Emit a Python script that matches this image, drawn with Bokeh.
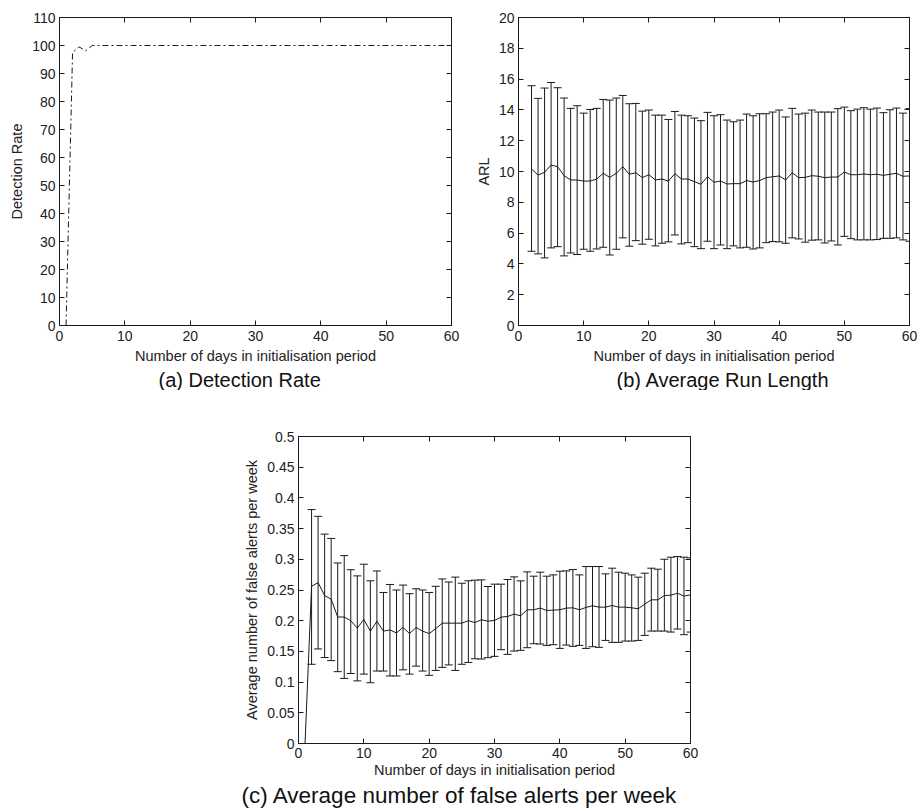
from bokeh.plotting import figure
from bokeh.layouts import row, column, Spacer
from bokeh.models import (Range1d, FixedTicker, LinearAxis, Title, Whisker,
                          TeeHead, ColumnDataSource)
from bokeh.embed import file_html
from bokeh.resources import INLINE

FONT = "Liberation Sans"
INK = "#1a1a1a"

# ---------------- data ----------------
# (a) detection rate (%) against length of initialisation period
dr_days = list(range(1, 61))
dr_rate = [0.0, 97.5, 99.5, 98.1, 100, 100, 100, 100, 100, 100,
           100, 100, 100, 100, 100, 100, 100, 100, 100, 100,
           100, 100, 100, 100, 100, 100, 100, 100, 100, 100,
           100, 100, 100, 100, 100, 100, 100, 100, 100, 100,
           100, 100, 100, 100, 100, 100, 100, 100, 100, 100,
           100, 100, 100, 100, 100, 100, 100, 100, 100, 100]

# (b) average run length, days 2..60, with error-bar limits
arl_days = list(range(2, 61))
arl_mean = [10.16, 9.77, 9.95, 10.42, 10.31, 9.73, 9.45, 9.45, 9.38, 9.38,
            9.51, 9.88, 9.62, 9.88, 10.31, 9.82, 9.92, 9.60, 9.79, 9.45,
            9.51, 9.38, 9.86, 9.51, 9.51, 9.34, 9.17, 9.66, 9.30, 9.38,
            9.19, 9.21, 9.21, 9.41, 9.32, 9.41, 9.60, 9.66, 9.71, 9.45,
            9.92, 9.60, 9.62, 9.73, 9.69, 9.60, 9.64, 9.64, 9.97, 9.79,
            9.79, 9.84, 9.79, 9.82, 9.75, 9.82, 9.88, 9.69, 9.71]
arl_upper = [15.57, 14.75, 15.42, 15.78, 15.44, 14.77, 14.10, 14.27, 13.79, 14.03,
             14.10, 14.68, 14.64, 14.77, 14.94, 14.40, 14.42, 13.92, 13.99, 13.66,
             13.66, 13.38, 13.90, 13.66, 13.62, 13.47, 13.30, 13.84, 13.62, 13.69,
             13.34, 13.23, 13.34, 13.73, 13.62, 13.75, 13.75, 13.86, 13.99, 13.54,
             14.10, 13.73, 13.79, 13.99, 13.86, 13.86, 13.86, 14.08, 14.18, 13.95,
             14.05, 14.14, 14.05, 14.12, 13.82, 14.01, 14.12, 13.79, 14.08]
arl_lower = [4.82, 4.65, 4.39, 5.04, 5.12, 4.52, 4.71, 4.61, 4.95, 4.82,
             4.97, 5.08, 4.58, 4.95, 5.69, 5.15, 5.51, 5.28, 5.60, 5.17,
             5.34, 5.43, 5.88, 5.30, 5.38, 5.12, 4.99, 5.47, 4.99, 5.23,
             4.99, 5.17, 5.04, 5.08, 4.97, 5.04, 5.38, 5.45, 5.43, 5.34,
             5.69, 5.62, 5.41, 5.54, 5.56, 5.36, 5.49, 5.23, 5.79, 5.64,
             5.56, 5.56, 5.56, 5.58, 5.66, 5.66, 5.69, 5.56, 5.47]

# (c) false alerts per week: mean for days 1..60, error bars for days 2..60
fa_days = list(range(1, 61))
fa_mean = [0.0, 0.256, 0.262, 0.241, 0.235, 0.206, 0.206, 0.200, 0.188, 0.202,
           0.183, 0.199, 0.183, 0.185, 0.180, 0.189, 0.179, 0.189, 0.183, 0.179,
           0.187, 0.196, 0.196, 0.196, 0.196, 0.200, 0.197, 0.2015, 0.1993, 0.2004,
           0.2058, 0.2069, 0.2107, 0.2080, 0.2178, 0.2178, 0.2205, 0.2167, 0.2172, 0.2178,
           0.2205, 0.2210, 0.2178, 0.2216, 0.2243, 0.2221, 0.2221, 0.2248, 0.2221, 0.2221,
           0.2210, 0.2194, 0.2270, 0.2340, 0.2340, 0.2410, 0.2416, 0.2448, 0.2400, 0.2421]
fa_bar_days = list(range(2, 61))
fa_upper = [0.381, 0.370, 0.341, 0.334, 0.294, 0.306, 0.283, 0.273, 0.292,
            0.265, 0.281, 0.246, 0.259, 0.250, 0.258, 0.244, 0.252, 0.250, 0.246,
            0.256, 0.268, 0.263, 0.271, 0.261, 0.265, 0.266, 0.2665, 0.2557, 0.2595,
            0.2595, 0.2671, 0.2714, 0.2649, 0.2795, 0.2725, 0.2790, 0.2725, 0.2746, 0.2806,
            0.2811, 0.2833, 0.2746, 0.2882, 0.2882, 0.2882, 0.2763, 0.2855, 0.2790, 0.2774,
            0.2746, 0.2709, 0.2774, 0.2855, 0.2839, 0.3001, 0.3034, 0.3045, 0.3034, 0.3023]
fa_lower = [0.129, 0.154, 0.140, 0.135, 0.117, 0.106, 0.114, 0.102, 0.113,
            0.099, 0.118, 0.118, 0.110, 0.110, 0.120, 0.113, 0.126, 0.118, 0.111,
            0.119, 0.124, 0.128, 0.119, 0.129, 0.132, 0.138, 0.1376, 0.1398, 0.1419,
            0.1528, 0.1452, 0.1506, 0.1517, 0.1560, 0.1625, 0.1620, 0.1598, 0.1609, 0.1549,
            0.1603, 0.1582, 0.1598, 0.1549, 0.1576, 0.1566, 0.1679, 0.1647, 0.1647, 0.1668,
            0.1668, 0.1679, 0.1760, 0.1831, 0.1831, 0.1831, 0.1815, 0.1864, 0.1772, 0.1815]

# tick positions and labels
x_ticks = [0, 10, 20, 30, 40, 50, 60]
dr_ticks = [0, 10, 20, 30, 40, 50, 60, 70, 80, 90, 100, 110]
arl_ticks = [0, 2, 4, 6, 8, 10, 12, 14, 16, 18, 20]
fa_ticks = [0, 0.05, 0.1, 0.15, 0.2, 0.25, 0.3, 0.35, 0.4, 0.45, 0.5]
fa_tick_labels = ["0", "0.05", "0.1", "0.15", "0.2", "0.25", "0.3", "0.35", "0.4", "0.45", "0.5"]

X_LABEL = "Number of days in initialisation period"


def make_panel(width, height, y_max, borders, y_label, y_ticks, caption, cap_offset,
               cap_size="20px", y_label_map=None, x_gap=(5, 4)):
    left, right, top, bottom = borders
    p = figure(width=width, height=height, x_range=Range1d(0, 60), y_range=Range1d(0, y_max),
               output_backend="svg", toolbar_location=None, title=None,
               min_border_left=left, min_border_right=right,
               min_border_top=top, min_border_bottom=bottom,
               background_fill_color="white", border_fill_color="white")
    p.outline_line_color = INK
    p.outline_line_width = 1
    p.grid.visible = False

    xa, ya = p.xaxis[0], p.yaxis[0]
    xa.ticker = FixedTicker(ticks=x_ticks)
    ya.ticker = FixedTicker(ticks=y_ticks)
    if y_label_map:
        ya.major_label_overrides = y_label_map
    xa.axis_label = X_LABEL
    ya.axis_label = y_label
    for ax in (xa, ya):
        ax.major_tick_in = 5
        ax.major_tick_out = 0
        ax.minor_tick_line_color = None
        ax.axis_line_color = INK
        ax.major_tick_line_color = INK
        ax.major_label_text_font = FONT
        ax.major_label_text_font_size = "14px"
        ax.major_label_text_color = "#222222"
        ax.axis_label_text_font = FONT
        ax.axis_label_text_font_size = "14.5px"
        ax.axis_label_text_font_style = "normal"
        ax.axis_label_text_color = "#222222"
    xa.major_label_standoff, xa.axis_label_standoff = x_gap
    ya.major_label_standoff = 4
    ya.axis_label_standoff = 4

    # mirrored tick marks on the top and right edges
    for side, ticks in (("above", x_ticks), ("right", y_ticks)):
        ax = LinearAxis(ticker=FixedTicker(ticks=ticks), major_tick_in=5, major_tick_out=0,
                        minor_tick_line_color=None, axis_line_color=INK,
                        major_tick_line_color=INK, major_label_text_font_size="0px",
                        major_label_text_alpha=0, major_label_standoff=0)
        p.add_layout(ax, side)

    cap = Title(text=caption, align="left", offset=cap_offset, text_font=FONT,
                text_font_size=cap_size, text_font_style="normal", text_color="#111111",
                standoff=0)
    p.add_layout(cap, "below")
    return p


# (a) Detection rate
pa = make_panel(460, 390, 110, (59, 9, 17, 65), "Detection Rate", dr_ticks,
                "(a) Detection Rate", 99)
pa.line(dr_days, dr_rate, line_color=INK, line_width=1, line_dash="6 3 2 3")

# (b) Average run length
pb = make_panel(458, 390, 20, (58, 9, 17, 65), "ARL", arl_ticks,
                "(b) Average Run Length", 98)
arl_src = ColumnDataSource(dict(x=arl_days, lo=arl_lower, hi=arl_upper))
pb.add_layout(Whisker(source=arl_src, base="x", lower="lo", upper="hi", dimension="height",
                      line_color=INK, line_width=1,
                      lower_head=TeeHead(size=8, line_color=INK, line_width=1),
                      upper_head=TeeHead(size=8, line_color=INK, line_width=1)))
pb.line(arl_days, arl_mean, line_color=INK, line_width=1)

# (c) False alerts per week
pc = make_panel(470, 418, 0.5, (68, 10, 46, 65), "Average number of false alerts per week",
                fa_ticks, "(c) Average number of false alerts per week", -57,
                cap_size="22.5px", y_label_map=dict(zip(fa_ticks, fa_tick_labels)),
                x_gap=(4, 1))
fa_src = ColumnDataSource(dict(x=fa_bar_days, lo=fa_lower, hi=fa_upper))
pc.add_layout(Whisker(source=fa_src, base="x", lower="lo", upper="hi", dimension="height",
                      line_color=INK, line_width=1,
                      lower_head=TeeHead(size=8, line_color=INK, line_width=1),
                      upper_head=TeeHead(size=8, line_color=INK, line_width=1)))
pc.line(fa_days, fa_mean, line_color=INK, line_width=1)

layout = column(row(pa, pb), row(Spacer(width=230, height=418), pc))

open("out.html", "w").write(file_html(layout, INLINE))
